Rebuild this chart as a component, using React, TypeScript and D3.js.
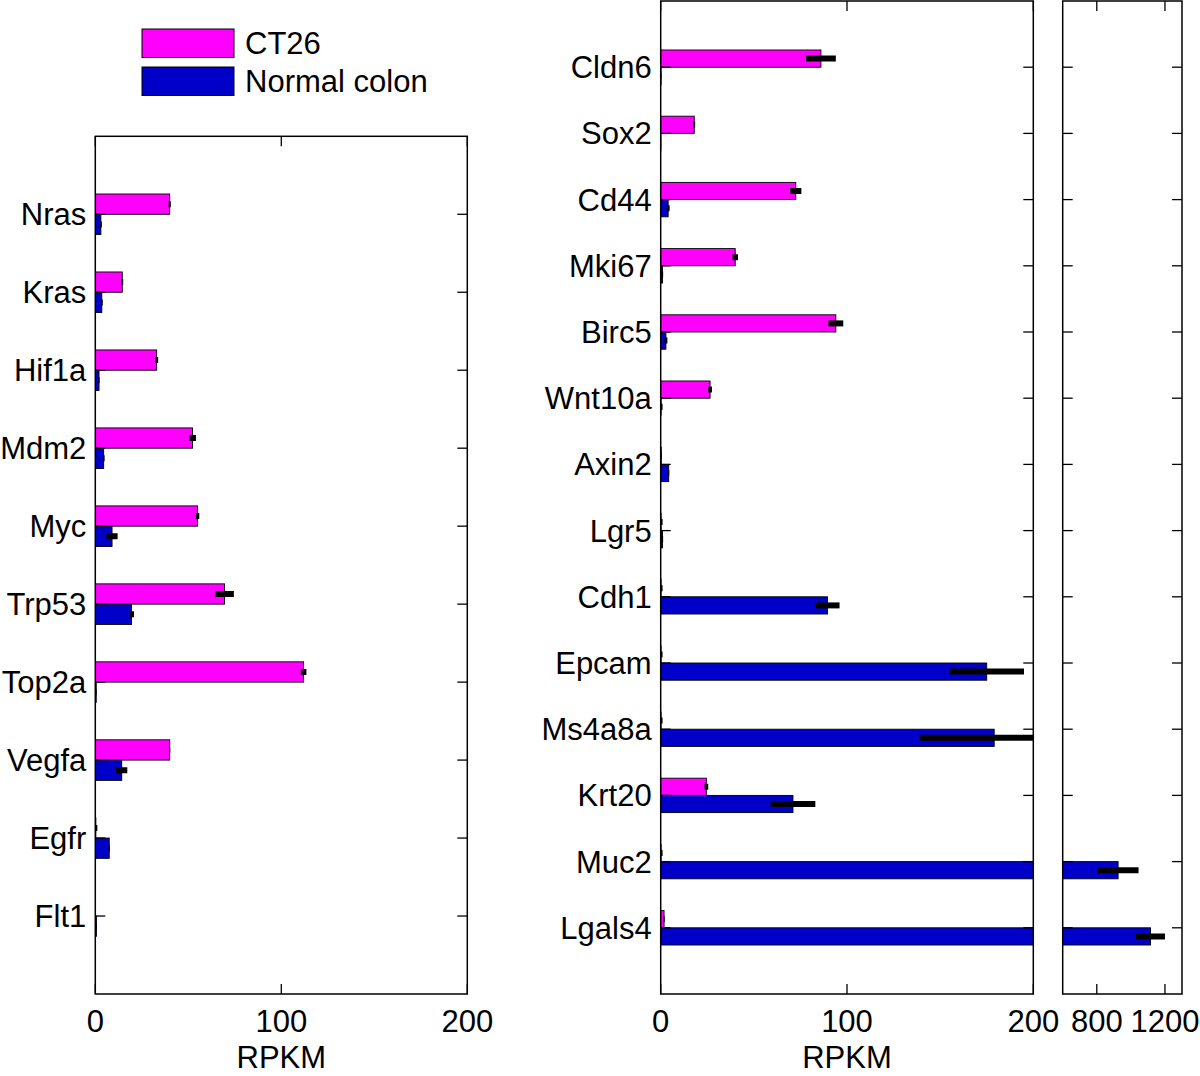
import React from "react";
import * as d3 from "d3";

const leftGenes = ["Nras", "Kras", "Hif1a", "Mdm2", "Myc", "Trp53", "Top2a", "Vegfa", "Egfr", "Flt1"];
const leftCT26 = [40, 14.5, 33, 52.3, 55, 69.5, 112, 40, 0.3, 0];
const leftCT26Err = [0.6, 0.5, 0.8, 1.8, 0.9, 5, 1.5, 0.3, 0.8, 0];
const leftNormal = [3, 3.5, 2, 4.5, 9, 19.5, 0.5, 14.2, 7.5, 0.6];
const leftNormalErr = [0.5, 0.5, 0.3, 0.5, 3, 1.3, 0.2, 3, 0.3, 0.2];

const midGenes = ["Cldn6", "Sox2", "Cd44", "Mki67", "Birc5", "Wnt10a", "Axin2", "Lgr5", "Cdh1", "Epcam", "Ms4a8a", "Krt20", "Muc2", "Lgals4"];
const midCT26 = [86, 18, 72.5, 40, 94, 26.5, 0.3, 0.2, 0.2, 0.2, 0.2, 24.5, 0.2, 1.8];
const midCT26Err = [8, 0.5, 3, 1.5, 4, 1, 0.2, 0.8, 0.8, 0.8, 0.8, 1, 0.8, 0.3];
const midNormal = [0.2, 0.1, 4, 1, 2.8, 0.2, 4.3, 1, 89.5, 175, 179, 71, 925, 1115];
const midNormalErr = [0.2, 0.1, 0.8, 0.3, 0.8, 0.8, 0.3, 0.3, 6.5, 20, 40, 12, 120, 85];

const seriesNames = ["CT26", "Normal colon"];
const seriesColors = ["#FF00FF", "#0000C8"];

const lowTicks = [0, 100, 200];
const highTicks = [800, 1200];

const FONT = "'Liberation Sans', Arial, Helvetica, sans-serif";
const FS = 31;

type PanelProps = {
  id: string;
  genes: string[];
  ct: number[];
  ctErr: number[];
  nm: number[];
  nmErr: number[];
  domain: [number, number];
  ticks: number[];
  x0: number;
  x1: number;
  y0: number;
  y1: number;
  showLabels: boolean;
  xlabel: string | null;
};

function Panel(p: PanelProps) {
  const n = p.genes.length;
  const x = d3.scaleLinear().domain(p.domain).range([p.x0, p.x1]);
  const y = d3.scaleLinear().domain([0, n + 1]).range([p.y0, p.y1]);
  const bw = 0.26;
  const tickLen = 10;
  const xb = x(p.domain[0] > 0 ? p.domain[0] - 100 : 0);
  const series = [
    { v: p.ct, e: p.ctErr, color: seriesColors[0], off: -bw },
    { v: p.nm, e: p.nmErr, color: seriesColors[1], off: 0 },
  ];
  return (
    <g>
      <defs>
        <clipPath id={p.id}>
          <rect x={p.x0} y={p.y0} width={p.x1 - p.x0} height={p.y1 - p.y0} />
        </clipPath>
      </defs>
      <g clipPath={`url(#${p.id})`}>
        {series.map((s, si) =>
          p.genes.map((g, i) => {
            const c = i + 1;
            const yt = y(c + s.off);
            const h = y(c + s.off + bw) - yt;
            const xe = x(s.v[i]);
            return (
              <rect
                key={`b${si}-${i}`}
                x={Math.min(xb, xe)}
                y={yt}
                width={Math.max(0, xe - xb)}
                height={h}
                fill={s.color}
                stroke="#000"
                strokeWidth={0.9}
              />
            );
          })
        )}
        {series.map((s, si) =>
          p.genes.map((g, i) => {
            const c = i + 1;
            const yc = y(c + s.off + bw / 2);
            if (s.e[i] <= 0) return null;
            return (
              <line
                key={`e${si}-${i}`}
                x1={x(s.v[i] - s.e[i])}
                x2={x(s.v[i] + s.e[i])}
                y1={yc}
                y2={yc}
                stroke="#000"
                strokeWidth={6}
              />
            );
          })
        )}
      </g>
      {p.genes.map((g, i) => (
        <g key={`yt${i}`}>
          <line x1={p.x0} x2={p.x0 + tickLen} y1={y(i + 1)} y2={y(i + 1)} stroke="#000" strokeWidth={1.3} />
          <line x1={p.x1} x2={p.x1 - tickLen} y1={y(i + 1)} y2={y(i + 1)} stroke="#000" strokeWidth={1.3} />
        </g>
      ))}
      {p.ticks.map((t, i) => (
        <g key={`xt${i}`}>
          <line x1={x(t)} x2={x(t)} y1={p.y0} y2={p.y0 + tickLen} stroke="#000" strokeWidth={1.3} />
          <line x1={x(t)} x2={x(t)} y1={p.y1} y2={p.y1 - tickLen} stroke="#000" strokeWidth={1.3} />
          <text x={x(t)} y={p.y1 + 38} textAnchor="middle" fontFamily={FONT} fontSize={FS} fill="#000">
            {t}
          </text>
        </g>
      ))}
      <rect x={p.x0} y={p.y0} width={p.x1 - p.x0} height={p.y1 - p.y0} fill="none" stroke="#000" strokeWidth={1.5} />
      {p.showLabels &&
        p.genes.map((g, i) => (
          <text key={`l${i}`} x={p.x0 - 9} y={y(i + 1) + 11} textAnchor="end" fontFamily={FONT} fontSize={FS} fill="#000">
            {g}
          </text>
        ))}
      {p.xlabel && (
        <text x={(p.x0 + p.x1) / 2} y={p.y1 + 74} textAnchor="middle" fontFamily={FONT} fontSize={FS} fill="#000">
          {p.xlabel}
        </text>
      )}
    </g>
  );
}

export default function App() {
  return (
    <svg
      width={1200}
      height={1076}
      viewBox="0 0 1200 1076"
      style={{ position: "absolute", left: 0, top: 0, background: "#fff" }}
    >
      <rect x={0} y={0} width={1200} height={1076} fill="#fff" />
      {seriesNames.map((name, i) => (
        <g key={name}>
          <rect x={142} y={29 + i * 38} width={92} height={28.5} fill={seriesColors[i]} stroke="#000" strokeWidth={1} />
          <text x={245} y={54 + i * 38} fontFamily={FONT} fontSize={FS} fill="#000">
            {name}
          </text>
        </g>
      ))}
      <Panel
        id="clipL"
        genes={leftGenes}
        ct={leftCT26}
        ctErr={leftCT26Err}
        nm={leftNormal}
        nmErr={leftNormalErr}
        domain={[0, 200]}
        ticks={lowTicks}
        x0={95.3}
        x1={467.3}
        y0={136.3}
        y1={994}
        showLabels={true}
        xlabel="RPKM"
      />
      <Panel
        id="clipM"
        genes={midGenes}
        ct={midCT26}
        ctErr={midCT26Err}
        nm={midNormal}
        nmErr={midNormalErr}
        domain={[0, 200]}
        ticks={lowTicks}
        x0={660.7}
        x1={1033.3}
        y0={1}
        y1={994}
        showLabels={true}
        xlabel="RPKM"
      />
      <Panel
        id="clipR"
        genes={midGenes}
        ct={midCT26}
        ctErr={midCT26Err}
        nm={midNormal}
        nmErr={midNormalErr}
        domain={[600, 1300]}
        ticks={highTicks}
        x0={1062.7}
        x1={1182}
        y0={1}
        y1={994}
        showLabels={false}
        xlabel={null}
      />
    </svg>
  );
}
